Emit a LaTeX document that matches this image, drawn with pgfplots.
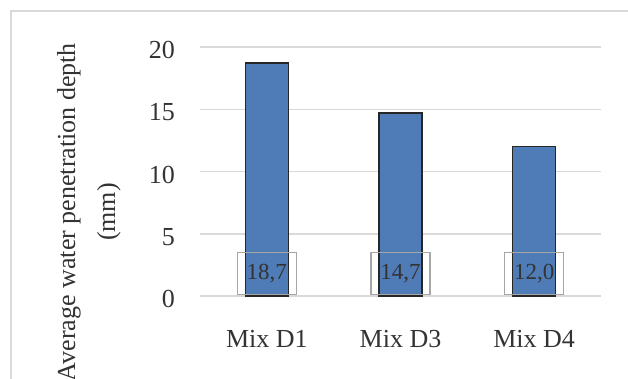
\documentclass[border=0pt]{standalone}
\usepackage{pgfplots}
\pgfplotsset{compat=1.18}
\usepackage{pgfplotstable}
\usepackage{fontspec}
\setmainfont{Liberation Serif}
\definecolor{barblue}{HTML}{4F7CB7}
\definecolor{gridgray}{HTML}{D9D9D9}
\definecolor{boxgray}{HTML}{A6A6A6}
\definecolor{txt}{HTML}{333333}
\pgfplotstableread{
x y base
0 18.7 0
1 14.7 0
2 12.0 0
}\data
\begin{document}
\begin{tikzpicture}
\useasboundingbox (0pt,0pt) rectangle (628pt,378pt);
\clip (0pt,0pt) rectangle (628pt,378pt);
\draw[gridgray, line width=1.5pt] (11pt,-20pt) -- (11pt,367pt) -- (660pt,367pt);
\begin{axis}[
  at={(200pt,82pt)}, anchor=south west,
  width=401pt, height=249pt, scale only axis,
  xmin=-0.5, xmax=2.5, ymin=0, ymax=20,
  axis line style={draw=none}, tick style={draw=none},
  ymajorgrids, grid style={gridgray, line width=1.5pt},
  ytick={0,5,10,15,20}, xtick={0,1,2}, xticklabels={Mix D1,Mix D3,Mix D4},
  ticklabel style={font=\fontsize{26}{30}\selectfont, text=txt},
  /pgf/number format/assume math mode=true,
  yticklabel style={inner sep=0pt, xshift=-25pt, yshift=-3pt},
  xticklabel style={inner sep=0pt, yshift=-34pt},
  ylabel={Average water penetration depth\\(mm)},
  ylabel style={at={(axis description cs:-0.277,0.337)}, anchor=center, align=center, font=\fontsize{26}{40}\selectfont, text=txt},
  clip=false,
]
\addplot[ybar, bar width=43pt, fill=barblue, draw=black!85, line width=1.5pt] table[x=x,y=y] \data;
\addplot[draw=none, point meta=\thisrow{y},
  nodes near coords={\pgfmathprintnumber[fixed,fixed zerofill,precision=1,use comma,assume math mode=true]{\pgfplotspointmeta}},
  nodes near coords style={anchor=south, draw=boxgray, line width=1.2pt, minimum width=59pt, minimum height=42pt, inner sep=0pt, font=\fontsize{23}{26}\selectfont, text=txt, yshift=1pt}] table[x=x,y=base] \data;
\end{axis}
\end{tikzpicture}
\end{document}
